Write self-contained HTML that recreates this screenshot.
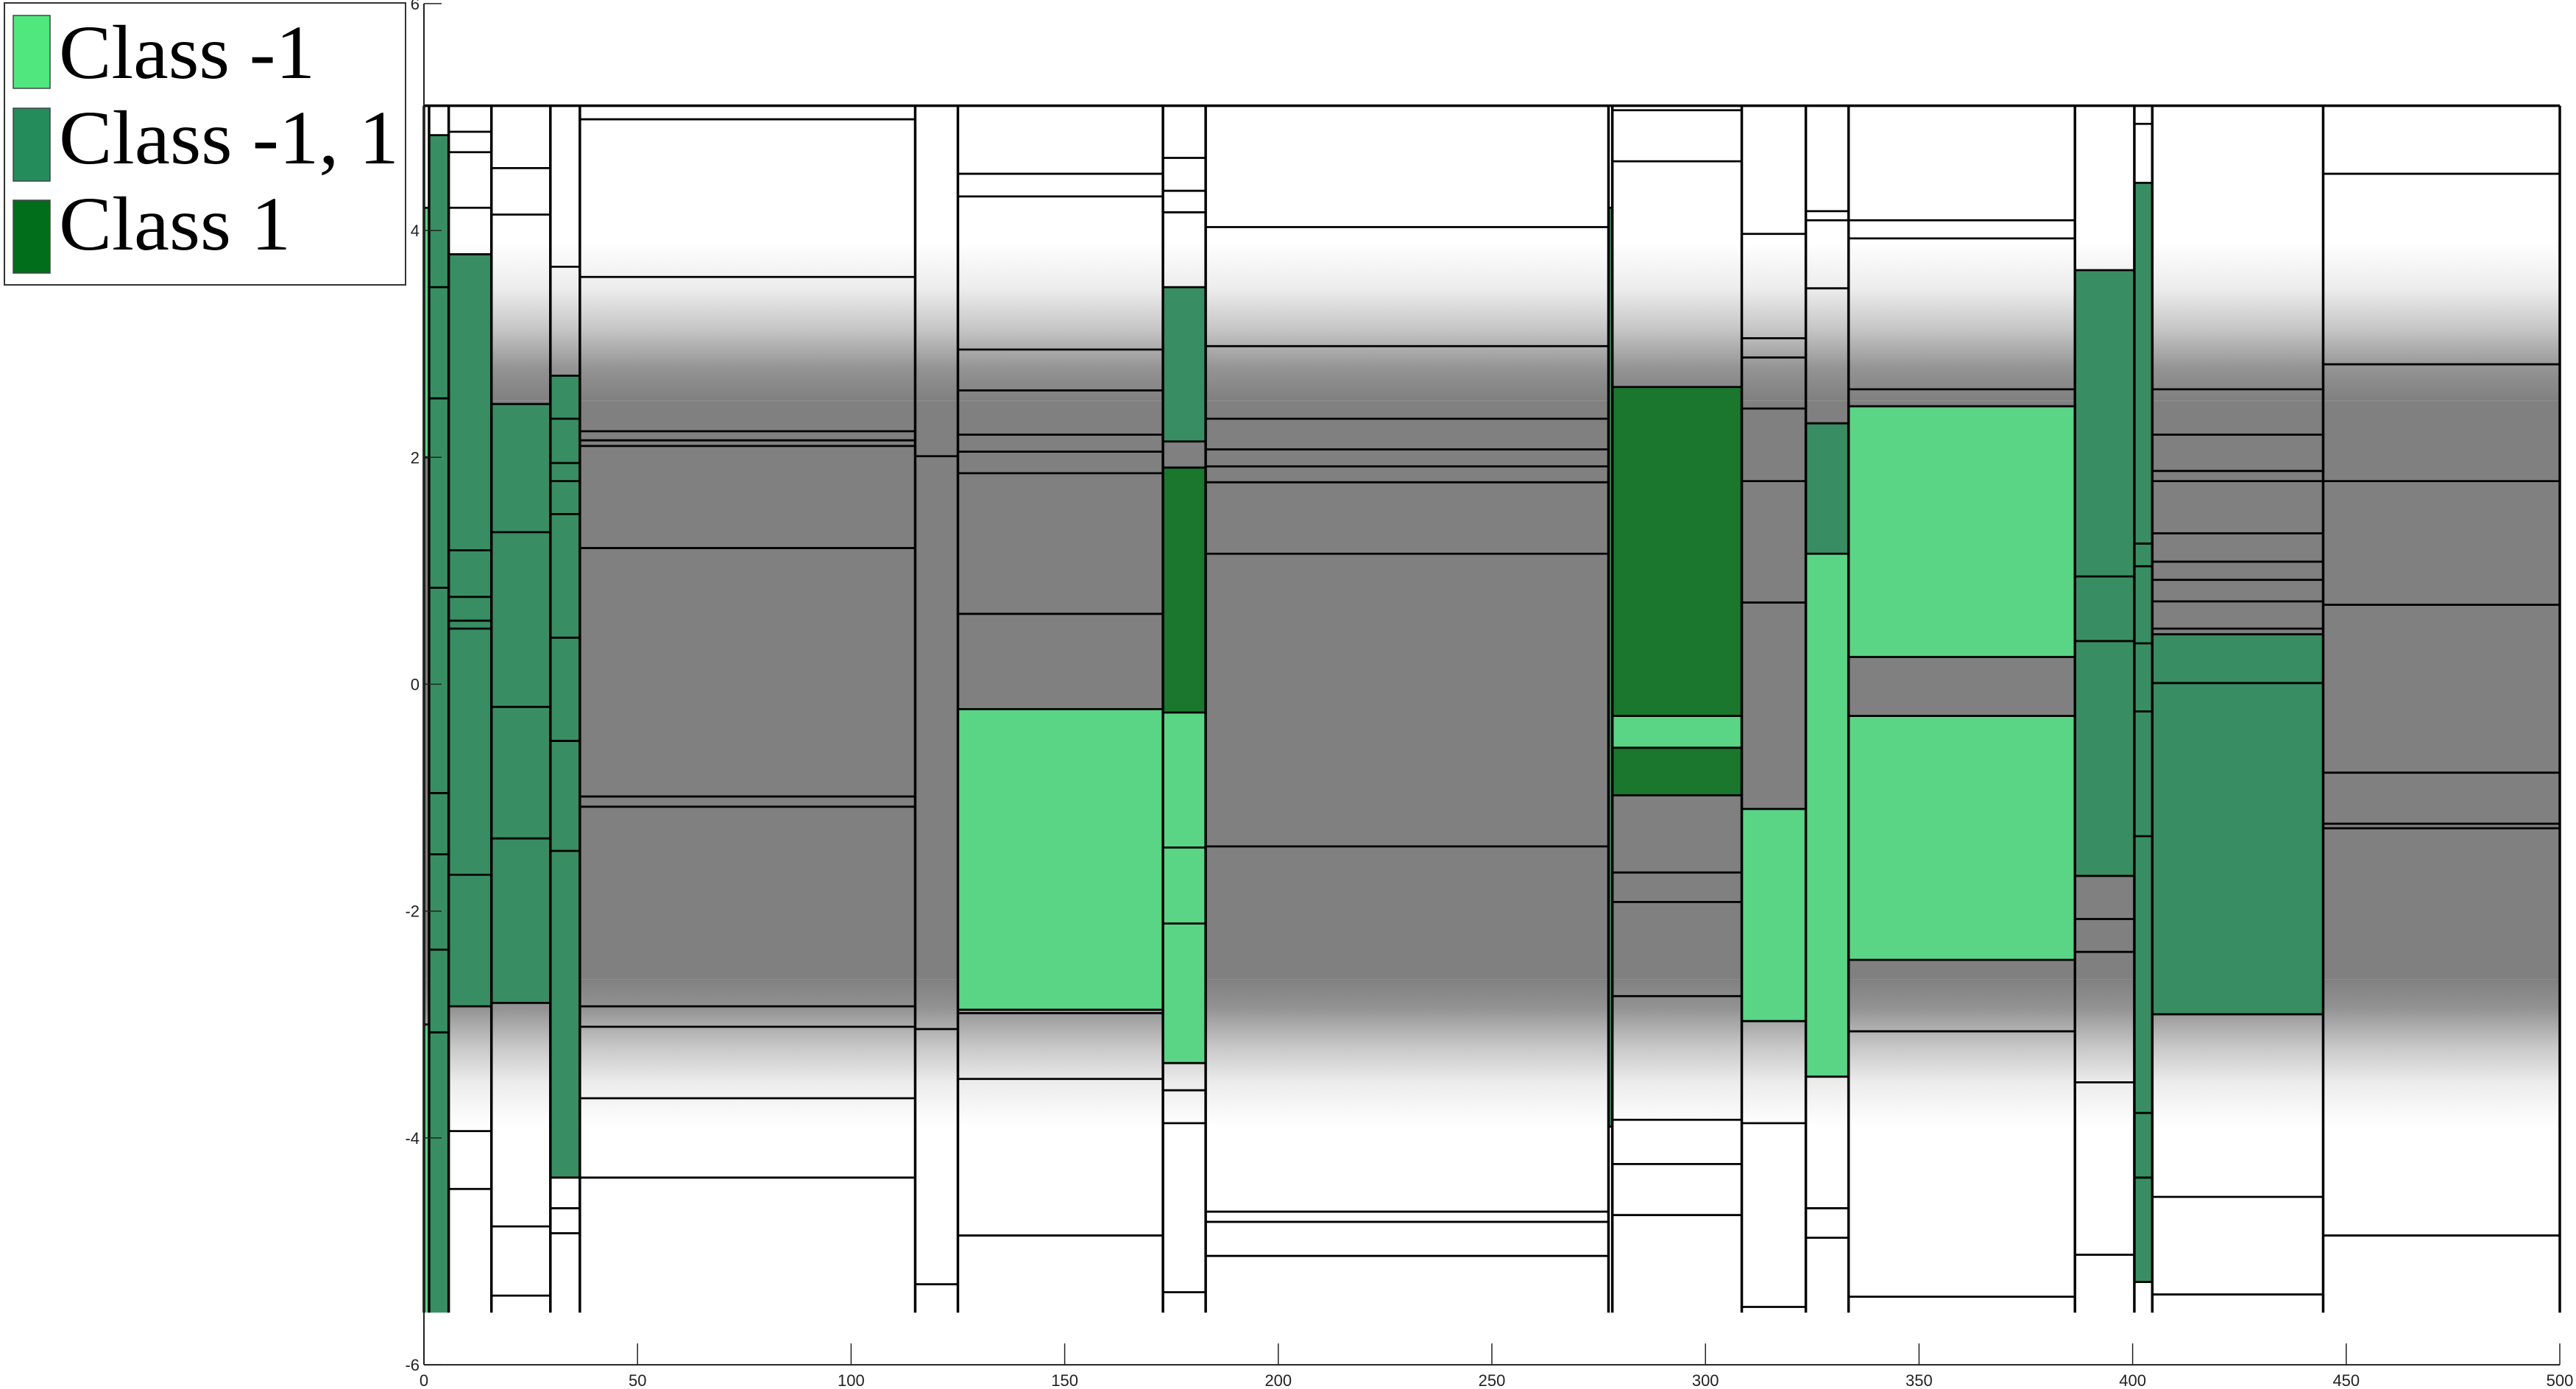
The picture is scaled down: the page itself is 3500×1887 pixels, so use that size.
<!DOCTYPE html>
<html><head><meta charset="utf-8"><style>
html,body{margin:0;padding:0;background:#fff;}
svg{display:block;}
</style></head><body>
<svg id="chart" width="3500" height="1887" viewBox="0 0 3500 1887" xmlns="http://www.w3.org/2000/svg">
<defs>
<linearGradient id="fringeTop" x1="0" y1="1" x2="0" y2="0">
<stop offset="0" stop-color="#808080" stop-opacity="1"/>
<stop offset="0.2" stop-color="#808080" stop-opacity="0.85"/>
<stop offset="0.45" stop-color="#808080" stop-opacity="0.45"/>
<stop offset="0.7" stop-color="#808080" stop-opacity="0.15"/>
<stop offset="1" stop-color="#808080" stop-opacity="0"/>
</linearGradient>
<linearGradient id="fringeBot" x1="0" y1="0" x2="0" y2="1">
<stop offset="0" stop-color="#808080" stop-opacity="1"/>
<stop offset="0.2" stop-color="#808080" stop-opacity="0.85"/>
<stop offset="0.45" stop-color="#808080" stop-opacity="0.45"/>
<stop offset="0.7" stop-color="#808080" stop-opacity="0.15"/>
<stop offset="1" stop-color="#808080" stop-opacity="0"/>
</linearGradient>
</defs>
<g id="plot"></g>
<g id="axes"></g>
<g id="legend">
<rect x="6" y="4" width="545" height="383" fill="#fff" stroke="#333" stroke-width="2"/>
<rect x="18" y="21" width="50" height="99" fill="#50e87e" stroke="#444" stroke-width="1.5"/>
<text x="80" y="106" font-family="Liberation Serif, serif" font-size="104" textLength="348" lengthAdjust="spacingAndGlyphs">Class -1</text>
<rect x="18" y="147" width="50" height="99" fill="#238c5a" stroke="#444" stroke-width="1.5"/>
<text x="80" y="222" font-family="Liberation Serif, serif" font-size="104" textLength="462" lengthAdjust="spacingAndGlyphs">Class -1, 1</text>
<rect x="18" y="272" width="50" height="99" fill="#006e1a" stroke="#444" stroke-width="1.5"/>
<text x="80" y="339" font-family="Liberation Serif, serif" font-size="104" textLength="315" lengthAdjust="spacingAndGlyphs">Class 1</text>
</g>
</svg>
<script>
// column boundaries (x data units)
const colStarts = [0, 1.2, 5.8, 15.8, 29.6, 36.5, 115, 125, 173, 183, 277.3, 278.2, 308.5, 323.5, 333.5, 386.5, 400.4, 404.6, 444.6];
const colEnds   = [1.2, 5.8, 15.8, 29.6, 36.5, 115, 125, 173, 183, 277.3, 278.2, 308.5, 323.5, 333.5, 386.5, 400.4, 404.6, 444.6, 500];
// split lines per column (y data units)
const colSplits = [
 [4.2, 2.0, -3.0],
 [4.84, 3.50, 2.52, 0.85, -0.96, -1.50, -2.34, -3.07],
 [4.87, 4.69, 4.20, 3.79, 1.18, 0.77, 0.56, 0.49, -1.68, -2.84, -3.94, -4.45],
 [4.55, 4.14, 2.47, 1.34, -0.20, -1.36, -2.81, -4.78, -5.39],
 [3.68, 2.72, 2.34, 1.95, 1.79, 1.50, 0.41, -0.50, -1.47, -4.35, -4.62, -4.84],
 [4.98, 3.59, 2.23, 2.15, 2.10, 1.20, -0.99, -1.08, -2.84, -3.02, -3.65, -4.35],
 [2.01, -3.04, -5.29],
 [4.50, 4.30, 2.95, 2.59, 2.20, 2.05, 1.86, 0.62, -0.22, -2.87, -2.90, -3.48, -4.86],
 [4.64, 4.35, 4.16, 3.50, 2.14, 1.91, -0.25, -1.44, -2.11, -3.34, -3.58, -3.87, -5.36],
 [4.03, 2.98, 2.34, 2.07, 1.92, 1.78, 1.15, -1.43, -4.65, -4.74, -5.04],
 [4.2, -3.9],
 [5.06, 4.61, 2.62, -0.28, -0.56, -0.98, -1.66, -1.92, -2.75, -3.84, -4.23, -4.68],
 [3.97, 3.05, 2.88, 2.43, 1.79, 0.72, -1.10, -2.97, -3.87, -5.49],
 [4.17, 4.09, 3.49, 2.30, 1.15, -3.46, -4.62, -4.88],
 [4.09, 3.93, 2.60, 2.45, 0.24, -0.28, -2.43, -3.06, -5.40],
 [3.65, 0.95, 0.38, -1.69, -2.07, -2.36, -3.51, -5.03],
 [4.94, 4.42, 1.24, 1.04, 0.36, -0.24, -1.34, -3.78, -4.35, -5.27],
 [2.60, 2.20, 1.88, 1.79, 1.33, 1.08, 0.92, 0.73, 0.49, 0.44, 0.01, -2.91, -4.52, -5.38],
 [4.50, 2.82, 1.79, 0.70, -0.78, -1.23, -1.27, -4.86]
];
// colored leaf regions: column index, y top, y bottom, class
const leafCol   = [0, 0, 1, 2, 3, 4, 7, 8, 8, 8, 10, 11, 11, 11, 12, 13, 13, 14, 14, 15, 16, 17];
const leafTop   = [4.2, -3.0, 4.84, 3.79, 2.47, 2.72, -0.22, 3.50, 1.91, -0.25, 4.2, 2.62, -0.28, -0.56, -1.10, 2.30, 1.15, 2.45, -0.28, 3.65, 4.42, 0.44];
const leafBot   = [2.0, -5.54, -5.54, -2.84, -2.81, -4.35, -2.87, 2.14, -0.25, -3.34, -3.9, -0.28, -0.56, -0.98, -2.97, 1.15, -3.46, 0.24, -2.43, -1.69, -5.27, -2.91];
const leafClass = ["neg", "neg", "both", "both", "both", "both", "neg", "both", "pos", "neg", "both", "pos", "neg", "pos", "neg", "both", "neg", "neg", "neg", "both", "both", "both"];
const xTicks = [0, 50, 100, 150, 200, 250, 300, 350, 400, 450, 500];
const yTicks = [-6, -4, -2, 0, 2, 4, 6];
const boxTop = 5.10, boxBottom = -5.54;
const bandTop = 2.5, bandBottom = -2.6, fringeTop = 3.9, fringeBottom = -3.9;

const NS = "http://www.w3.org/2000/svg";
const X = v => 576 + v * 5.804;
const Y = v => 929.5 - v * 154.1;
const fills = {neg: "#5ad585", both: "#388e62", pos: "#1b762e"};
function mk(tag, attrs, parent) {
  const e = document.createElementNS(NS, tag);
  for (const k in attrs) e.setAttribute(k, attrs[k]);
  parent.appendChild(e);
  return e;
}
const plot = document.getElementById("plot");
const axes = document.getElementById("axes");

colStarts.forEach((s, i) => {
  const r = mk("rect", {x: X(s), y: Y(boxTop), width: X(colEnds[i]) - X(s), height: Y(boxBottom) - Y(boxTop), fill: "#fff"}, plot);
  
  
});
const x0 = X(colStarts[0]), x1 = X(colEnds[colEnds.length - 1]);
let b = mk("rect", {x: x0, y: Y(fringeTop), width: x1 - x0, height: Y(bandTop) - Y(fringeTop), fill: "url(#fringeTop)"}, plot);


b = mk("rect", {x: x0, y: Y(bandBottom), width: x1 - x0, height: Y(fringeBottom) - Y(bandBottom), fill: "url(#fringeBot)"}, plot);


b = mk("rect", {x: x0, y: Y(bandTop), width: x1 - x0, height: Y(bandBottom) - Y(bandTop), fill: "#808080"}, plot);



leafCol.forEach((c, i) => {
  const r = mk("rect", {x: X(colStarts[c]), y: Y(leafTop[i]), width: X(colEnds[c]) - X(colStarts[c]), height: Y(leafBot[i]) - Y(leafTop[i]), fill: fills[leafClass[i]]}, plot);
  
  
});
colSplits.forEach((arr, c) => {
  arr.forEach(v => {
    const l = mk("line", {x1: X(colStarts[c]), x2: X(colEnds[c]), y1: Y(v), y2: Y(v), stroke: "#000", "stroke-width": 2.8}, plot);
    
    
  });
});
colStarts.concat([colEnds[colEnds.length - 1]]).forEach(s => {
  const l = mk("line", {x1: X(s), x2: X(s), y1: Y(boxTop), y2: Y(boxBottom), stroke: "#000", "stroke-width": 3.5}, plot);
  
  
});
const tl = mk("line", {x1: x0, x2: x1, y1: Y(boxTop), y2: Y(boxTop), stroke: "#000", "stroke-width": 3.5}, plot);



let a = mk("line", {x1: 576, x2: 576, y1: Y(6), y2: Y(-6), stroke: "#222", "stroke-width": 2}, axes);


a = mk("line", {x1: 576, x2: X(500), y1: Y(-6), y2: Y(-6), stroke: "#222", "stroke-width": 2}, axes);


yTicks.forEach(v => {
  const t = mk("line", {x1: 576, x2: 600, y1: Y(v), y2: Y(v), stroke: "#222", "stroke-width": 1.5}, axes);
  
  
  const tx = mk("text", {x: 570, y: Y(v) + 8, "text-anchor": "end", "font-family": "Liberation Sans, sans-serif", "font-size": 22, fill: "#222"}, axes);
  tx.textContent = String(v);
  
  
});
xTicks.forEach(v => {
  const t = mk("line", {x1: X(v), x2: X(v), y1: Y(-6), y2: Y(-6) - 29, stroke: "#222", "stroke-width": 1.5}, axes);
  
  
  const tx = mk("text", {x: X(v), y: 1883, "text-anchor": "middle", "font-family": "Liberation Sans, sans-serif", "font-size": 22, fill: "#222"}, axes);
  tx.textContent = String(v);
  
  
});
</script>
</body></html>
